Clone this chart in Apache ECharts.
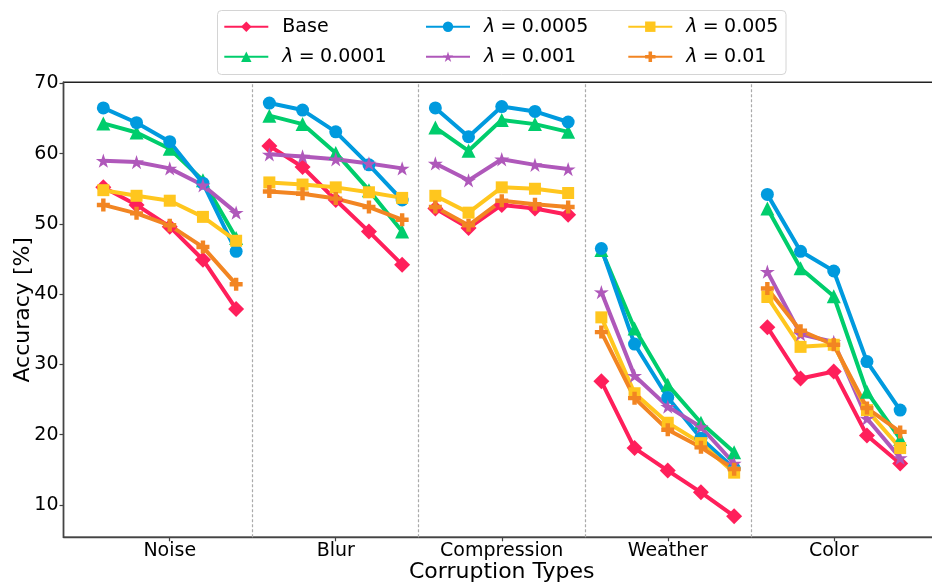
<!DOCTYPE html>
<html>
<head>
<meta charset="utf-8">
<title>Accuracy by corruption type</title>
<script src="https://cdn.jsdelivr.net/npm/echarts@6/dist/echarts.min.js"></script>
<style>
  html, body { margin: 0; padding: 0; background: #fff; }
  #chart { width: 932px; height: 585px; }
</style>
</head>
<body>
<div id="chart"></div>
<script>
// Corruption groups, five severity levels each
const categories = ['Noise', 'Blur', 'Compression', 'Weather', 'Color'];
const levelsPerGroup = 5;

// Accuracy [%] per severity level, groups in the order of `categories`
const baseAcc = [
  55.2, 52.7, 49.6, 44.9, 37.9,
  61.1, 58.1, 53.4, 48.9, 44.2,
  52.2, 49.4, 52.7, 52.2, 51.3,
  27.6, 18.1, 14.9, 11.8, 8.4,
  35.3, 28.0, 29.0, 19.9, 15.9
];
const lambda0001Acc = [
  64.3, 63.0, 60.7, 56.2, 48.0,
  65.4, 64.2, 60.1, 54.8, 48.9,
  63.7, 60.4, 64.8, 64.2, 63.1,
  46.3, 35.1, 27.1, 21.7, 17.5,
  52.2, 43.7, 39.7, 26.1, 19.4
];
const lambda0005Acc = [
  66.5, 64.4, 61.7, 55.8, 46.1,
  67.2, 66.2, 63.1, 58.4, 53.4,
  66.5, 62.4, 66.7, 66.0, 64.5,
  46.5, 32.9, 25.3, 19.5, 15.2,
  54.2, 46.1, 43.3, 30.4, 23.5
];
const lambda001Acc = [
  59.0, 58.8, 57.9, 55.5, 51.6,
  59.9, 59.6, 59.2, 58.6, 57.9,
  58.6, 56.2, 59.2, 58.4, 57.8,
  40.3, 28.4, 24.0, 21.1, 15.9,
  43.2, 34.3, 33.2, 22.3, 16.7
];
const lambda005Acc = [
  54.8, 54.0, 53.3, 51.0, 47.6,
  55.9, 55.6, 55.2, 54.5, 53.7,
  54.0, 51.6, 55.2, 55.0, 54.4,
  36.7, 25.9, 21.7, 18.8, 14.6,
  39.6, 32.5, 32.8, 23.5, 18.1
];
const lambda01Acc = [
  52.7, 51.5, 49.8, 46.7, 41.4,
  54.6, 54.3, 53.6, 52.4, 50.6,
  52.4, 49.8, 53.3, 52.8, 52.4,
  34.6, 25.2, 20.7, 18.2, 15.1,
  40.8, 34.8, 32.8, 23.8, 20.4
];

const seriesNames = ['Base', 'λ = 0.0001', 'λ = 0.0005', 'λ = 0.001', 'λ = 0.005', 'λ = 0.01'];
const seriesValues = [baseAcc, lambda0001Acc, lambda0005Acc, lambda001Acc, lambda005Acc, lambda01Acc];
const yTicks = [10, 20, 30, 40, 50, 60, 70];

// Styling
const FONT = 'DejaVu Sans';
const colors = ['#FF1F5B', '#00CD6C', '#009ADE', '#AF58BA', '#FFC61E', '#F28522'];
const STAR = 'path://M0,-1L0.223,-0.307L0.951,-0.309L0.361,0.117L0.588,0.809L0,0.38L-0.588,0.809L-0.361,0.117L-0.951,-0.309L-0.223,-0.307Z';
const PLUS = 'path://M-0.34,-1L0.34,-1L0.34,-0.34L1,-0.34L1,0.34L0.34,0.34L0.34,1L-0.34,1L-0.34,0.34L-1,0.34L-1,-0.34L-0.34,-0.34Z';
const DIAMOND = 'path://M0,-1L1,0L0,1L-1,0Z';
const symbols = [DIAMOND, 'triangle', 'circle', STAR, 'rect', PLUS];
const symbolSizes = [16, 14, 13, 15, 12, 13];

// x positions: group g, level i -> g*5 + i; a gap point breaks the line between groups
function toSegments(values) {
  const out = [];
  categories.forEach((c, g) => {
    for (let i = 0; i < levelsPerGroup; i++) {
      out.push([g * levelsPerGroup + i, values[g * levelsPerGroup + i]]);
    }
    if (g < categories.length - 1) out.push([g * levelsPerGroup + levelsPerGroup - 0.5, '-']);
  });
  return out;
}
const groupCenters = categories.map((c, g) => g * levelsPerGroup + (levelsPerGroup - 1) / 2);
const groupBounds = categories.slice(1).map((c, g) => g * levelsPerGroup + levelsPerGroup - 0.5);

const series = seriesNames.map((name, k) => ({
  name: name,
  type: 'line',
  data: toSegments(seriesValues[k]),
  connectNulls: false,
  symbol: symbols[k],
  symbolSize: symbolSizes[k],
  symbolKeepAspect: true,
  showAllSymbol: true,
  lineStyle: { width: 4, color: colors[k] },
  itemStyle: { color: colors[k], borderWidth: 0 },
  emphasis: { disabled: true },
  z: 3
}));

// dashed separators between corruption groups
series.push({
  name: 'separators',
  type: 'line',
  data: [],
  silent: true,
  z: 1,
  markLine: {
    silent: true,
    symbol: 'none',
    label: { show: false },
    lineStyle: { color: '#aaaaaa', type: [3, 2], width: 1.2 },
    data: groupBounds.map(v => ({ xAxis: v }))
  }
});

const richText = {
  b: { fontFamily: FONT, fontSize: 19, color: '#000', lineHeight: 20, padding: [0, 0, 0, 9] },
  i: { fontFamily: FONT, fontSize: 19, color: '#000', lineHeight: 20, fontStyle: 'italic', padding: [0, 0, 0, 9] },
  e: { fontFamily: FONT, fontSize: 19, color: '#000', lineHeight: 20, padding: [0, 5.3, 0, 5.3] },
  n: { fontFamily: FONT, fontSize: 19, color: '#000', lineHeight: 20 }
};
function legendLabel(name) {
  if (name.indexOf('=') < 0) return '{b|' + name + '}';
  return '{i|λ}{e|=}{n|' + name.split('= ')[1] + '}';
}
function legendColumn(names, left) {
  return {
    data: names,
    orient: 'vertical',
    left: left,
    top: 16.7,
    itemWidth: 44,
    itemHeight: 13,
    itemGap: 10,
    padding: 0,
    selectedMode: false,
    formatter: legendLabel,
    textStyle: { fontFamily: FONT, fontSize: 19, color: '#000', lineHeight: 20, rich: richText },
    z: 5
  };
}

const chart = echarts.init(document.getElementById('chart'), null, { renderer: 'canvas' });
chart.setOption({
  animation: false,
  backgroundColor: '#fff',
  textStyle: { fontFamily: FONT },
  graphic: [{
    type: 'rect',
    z: 4,
    shape: { x: 217.5, y: 10.5, width: 568.5, height: 64, r: 4 },
    style: { fill: '#fff', stroke: '#d4d4d4', lineWidth: 1 }
  }],
  legend: [
    legendColumn([seriesNames[0], seriesNames[1]], 223.3),
    legendColumn([seriesNames[2], seriesNames[3]], 425),
    legendColumn([seriesNames[4], seriesNames[5]], 627.3)
  ],
  grid: {
    left: 63.5, right: -8, top: 82.3, bottom: 47.7,
    outerBoundsMode: 'none',
    containLabel: false,
    show: true, borderColor: '#222', borderWidth: 1.4, backgroundColor: 'transparent'
  },
  xAxis: {
    type: 'value',
    min: -1.2,
    max: 25.2,
    name: 'Corruption Types',
    nameLocation: 'middle',
    nameGap: 24,
    nameMoveOverlap: false,
    nameTextStyle: { fontFamily: FONT, fontSize: 22, color: '#000' },
    axisLine: { show: true, onZero: false, lineStyle: { color: '#444', width: 1.4 } },
    axisTick: { show: true, customValues: groupCenters, length: 4, lineStyle: { color: '#444', width: 1.2 } },
    axisLabel: {
      customValues: groupCenters,
      margin: 4,
      fontFamily: FONT, fontSize: 19, color: '#000',
      formatter: v => categories[Math.round((v - (levelsPerGroup - 1) / 2) / levelsPerGroup)]
    },
    splitLine: { show: false }
  },
  yAxis: {
    type: 'value',
    min: 5.4,
    max: 70.15,
    name: 'Accuracy [%]',
    nameLocation: 'middle',
    nameGap: 29,
    nameMoveOverlap: false,
    nameTextStyle: { fontFamily: FONT, fontSize: 22, color: '#000' },
    axisLine: { show: true, onZero: false, lineStyle: { color: '#444', width: 1.4 } },
    axisTick: { show: true, customValues: yTicks, length: 4, lineStyle: { color: '#444', width: 1.2 } },
    axisLabel: { customValues: yTicks, margin: 5, fontFamily: FONT, fontSize: 19, color: '#000' },
    splitLine: { show: false }
  },
  series: series
});
</script>
</body>
</html>
